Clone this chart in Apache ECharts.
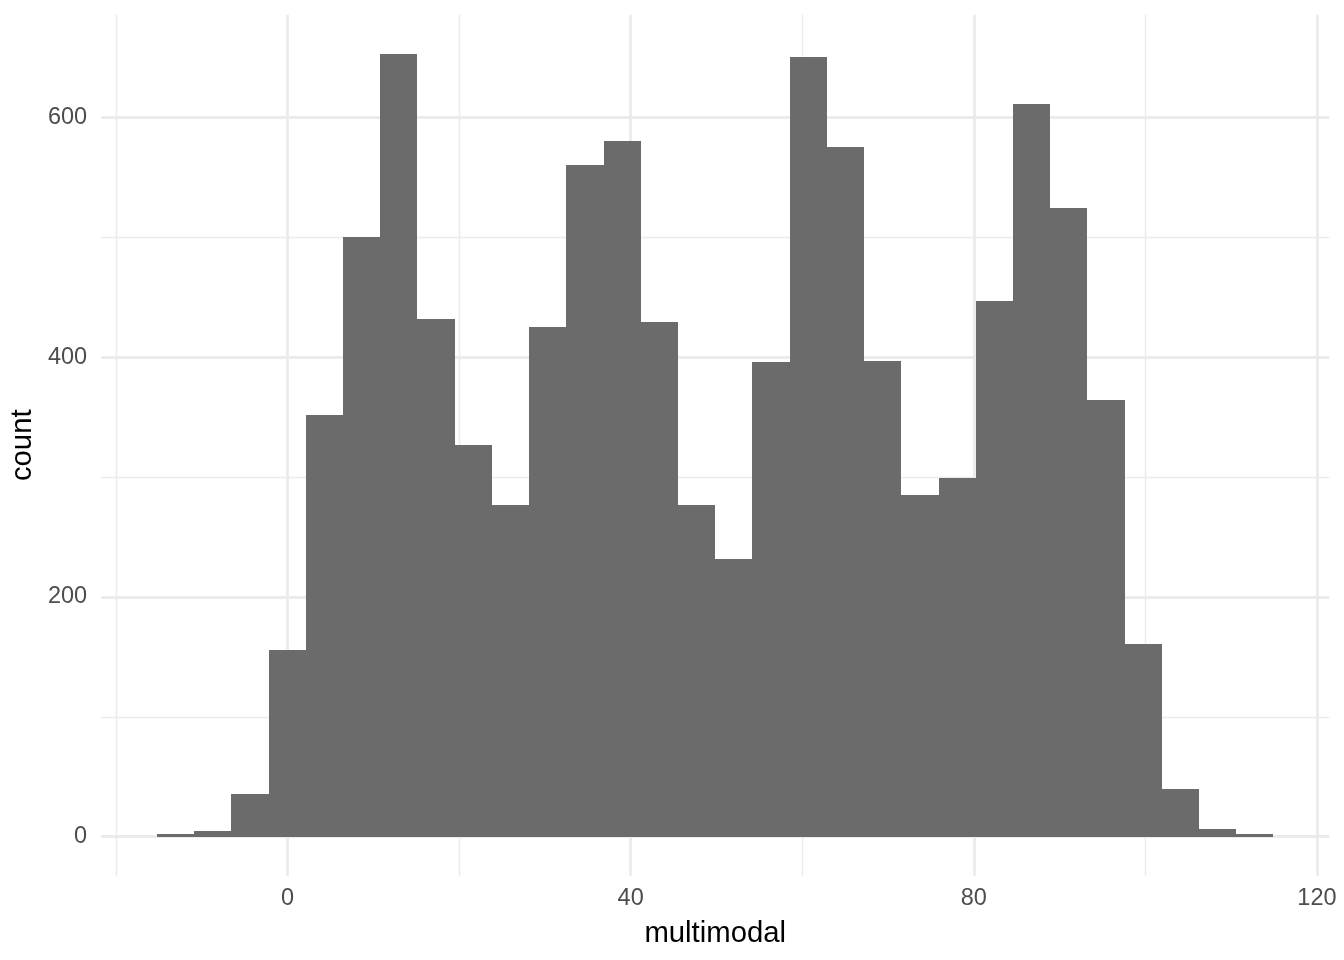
<!DOCTYPE html>
<html>
<head>
<meta charset="utf-8">
<script src="https://cdn.jsdelivr.net/npm/echarts@6/dist/echarts.min.js"></script>
<style>
html,body{margin:0;padding:0;background:#fff;}
#chart{width:1344px;height:960px;}
</style>
</head>
<body>
<div id="chart"></div>
<script>
// Histogram bins (30 equal-width bins)
const binStart = -15.22;
const binWidth = 4.3385;
const counts = [2, 5, 36, 156, 352, 500, 653, 432, 327, 277,
                425, 560, 580, 429, 277, 232, 396, 650, 575, 397,
                285, 299, 447, 611, 524, 364, 161, 40, 6, 2];
const xMajorTicks = [0, 40, 80, 120];
const xMinorTicks = [-20, 20, 60, 100];
const yMajorTicks = [0, 200, 400, 600];
const yMinorTicks = [100, 300, 500];
const xTitle = 'multimodal';
const yTitle = 'count';

const bins = counts.map((c, i) => [binStart + i * binWidth, binStart + (i + 1) * binWidth, c]);
const xLo = binStart, xHi = binStart + counts.length * binWidth;
const xPad = (xHi - xLo) * 0.05;
const yMaxData = Math.max(...counts);
const yPad = yMaxData * 0.05;

const gridColor = '#EBEBEB';
const font = 'Liberation Sans, Arial, Helvetica, sans-serif';

function makeAxis(isMajor, ticks, extra) {
  return Object.assign({
    type: 'value',
    gridIndex: 0,
    axisLine: {show: false},
    axisTick: {show: false, customValues: ticks},
    axisLabel: isMajor ? {
      show: true, customValues: ticks,
      color: '#4D4D4D', fontSize: 23.5, fontFamily: font
    } : {show: false, customValues: ticks},
    splitLine: {show: true, lineStyle: {color: gridColor, width: isMajor ? 2.8 : 1.4}},
    minorSplitLine: {show: false}
  }, extra);
}

const chart = echarts.init(document.getElementById('chart'), null, {renderer: 'canvas'});
chart.setOption({
  animation: false,
  backgroundColor: '#ffffff',
  grid: {left: 100.8, right: 14.7, top: 14.7, bottom: 84.2, containLabel: false},
  xAxis: [
    makeAxis(true, xMajorTicks, {
      min: xLo - xPad, max: xHi + xPad, position: 'bottom',
      name: xTitle, nameLocation: 'middle', nameGap: 44,
      nameTextStyle: {color: '#000', fontSize: 29.3, fontFamily: font},
      axisLabel: {show: true, customValues: xMajorTicks, color: '#4D4D4D', fontSize: 23.5, fontFamily: font, margin: 11}
    }),
    makeAxis(false, xMinorTicks, {min: xLo - xPad, max: xHi + xPad, position: 'bottom'})
  ],
  yAxis: [
    makeAxis(true, yMajorTicks, {
      min: -yPad, max: yMaxData + yPad, position: 'left',
      name: yTitle, nameLocation: 'middle', nameGap: 61,
      nameTextStyle: {color: '#000', fontSize: 29.3, fontFamily: font},
      axisLabel: {show: true, customValues: yMajorTicks, color: '#4D4D4D', fontSize: 23.5, fontFamily: font, margin: 14}
    }),
    makeAxis(false, yMinorTicks, {min: -yPad, max: yMaxData + yPad, position: 'left'})
  ],
  series: [{
    type: 'custom',
    xAxisIndex: 0,
    yAxisIndex: 0,
    z: 5,
    data: bins,
    encode: {x: [0, 1], y: 2},
    renderItem: function (params, api) {
      const p0 = api.coord([api.value(0), 0]);
      const p1 = api.coord([api.value(1), api.value(2)]);
      const x0 = Math.round(p0[0]), x1 = Math.round(p1[0]);
      const yb = Math.round(p0[1]), yt = Math.round(p1[1]);
      return {
        type: 'rect',
        shape: {x: x0, y: yt, width: x1 - x0, height: yb - yt},
        style: {fill: '#6B6B6B', stroke: null}
      };
    }
  }]
});
</script>
</body>
</html>
